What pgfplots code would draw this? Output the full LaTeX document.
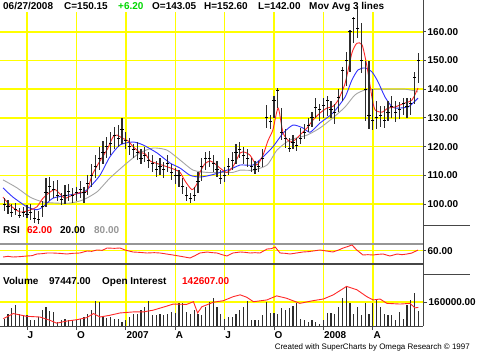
\documentclass[border=0pt]{standalone}
\usepackage{fontspec}
\setmainfont{Liberation Sans}
\usepackage{pgfplots}
\usepackage{pgfplotstable}
\pgfplotsset{compat=1.18}
\definecolor{gridyel}{RGB}{255,255,0}
\definecolor{mared}{RGB}{255,40,40}
\definecolor{mablue}{RGB}{50,50,255}
\definecolor{magray}{RGB}{165,165,165}
\definecolor{axgray}{RGB}{70,70,70}
\definecolor{barcol}{RGB}{45,45,45}
\definecolor{txtgreen}{RGB}{0,215,0}
\definecolor{rsigray}{RGB}{150,150,150}
\newcommand\lab{\fontsize{10}{12}\selectfont\bfseries}

\pgfplotstableread{
w c h l
-6 100 102 97.5
-5 99 101.5 96.5
-4 97 100 95.5
-3 98 100.5 96
-2 96 98.5 95
-1 97 99 95.5
0 96.5 99.5 95
1 97 100 94.5
2 95 98 93.5
3 94.5 97.5 93
4 99 101 95.5
5 104 109 99
6 106 109.5 101
7 105 108 102
8 103 108.5 101
9 101.5 104 99.5
10 103 106.5 100
11 104.5 107 101
12 103 105.5 100.5
13 104 106 101
14 105 108 102
15 104 106 100.5
16 107 110 103
17 110 114 106
18 113 117 109
19 116 120 112
20 118 122 114
21 120 123.5 116
22 121 125 117
23 124 127 119
24 123 127.5 120
25 126 130 121
26 122 125 119
27 120 123 117
28 119 121 116
29 118 121.5 115.5
30 116 119 114
31 117 120 114.5
32 115 118 112.5
33 114 117 111
34 112 115 109.5
35 113 116 110
36 112 114.5 109
37 114 117 111
38 111 114 108.5
39 110 112.5 107
40 110 112 106
41 106 109 103.5
42 103 106 101
43 102 104 100.5
44 103 106 101
45 108 111 104
46 113 116 108
47 116 118 112
48 116 118.5 113
49 114 117 111
50 112 115 109.5
51 109 112 107
52 110 113 107.5
53 113 116 110
54 115 118 112
55 118 121 114
56 119 121.5 116
57 117 120 114
58 116 119 113
59 113 116 111
60 112 115 110.5
61 113 115 111
62 116 119 113
63 130 134.5 126.5
64 128.6 131 126
65 136 137.5 130
66 139.7 140.4 133.4
67 125 133.4 122.3
68 123 126 119.5
69 119.5 123 118
70 121.3 124 119
71 120.5 123 118.5
72 123 126.5 121
73 125 128 122.5
74 127.5 130 125
75 130 132 127
76 133.8 137 130
77 132.8 135 129
78 134.5 137 130
79 136 137.5 130.5
80 133 136 130
81 132 135 128
82 137 140 132
83 146.7 147.7 136
84 150 153 141
85 160 160.6 146
86 164.8 165 156
87 161 168.6 158
88 150 163 145.6
89 140 150 129
90 131 150 126
91 129 140 125.8
92 130 136 126
93 131 134 127
94 129 134 126.5
95 132 136 129
96 134 137.5 130
97 132 136 128.5
98 133 135.5 129.5
99 135 137 131
100 134 137 130
101 135 137 131
102 144 146 135
103 150.15 152.6 142
}\price

\pgfplotstableread{
w v
-6 49000
-5 83000
-4 117000
-3 139600
-2 83000
-1 71500
0 71500
1 42200
2 42200
3 60000
4 110000
5 128000
6 100800
7 94000
8 25900
9 37400
10 49000
11 37400
12 42200
13 42200
14 49000
15 60000
16 78300
17 110000
18 169000
19 162000
20 60000
21 55800
22 60000
23 49000
24 49000
25 25900
26 37400
27 60000
28 83000
29 83000
30 105500
31 128000
32 169000
33 71500
34 71500
35 83000
36 71500
37 78300
38 94000
39 87000
40 155000
41 151000
42 94000
43 83000
44 110000
45 83000
46 76000
47 128000
48 162000
49 185000
50 124000
51 83000
52 49000
53 60000
54 60000
55 83000
56 105500
57 128000
58 169000
59 37400
60 37400
61 42200
62 71500
63 162000
64 87000
65 87000
66 83000
67 117000
68 105500
69 117000
70 132800
71 155000
72 49000
73 37400
74 25900
75 37400
76 25900
77 15000
78 42200
79 87000
80 87000
81 83000
82 124000
83 190000
84 262000
85 151000
86 83000
87 128000
88 71500
89 155000
90 83000
91 151000
92 178000
93 128000
94 83000
95 71500
96 71500
97 42200
98 94000
99 49000
100 139600
101 173600
102 223000
103 97447
}\vol

\pgfplotsset{
  panel/.style={
    scale only axis, width=423bp, xmin=-7.105, xmax=104.21, clip=false,
    axis x line*=bottom, axis y line*=right,
    xtick pos=bottom, ytick pos=right, yticklabel pos=right,
    x axis line style={draw=none},
    y axis line style={draw=axgray, line width=0.8bp},
    xtick={0,13,26,39,52,65,78,91}, xticklabels={},
    xmajorgrids, ymajorgrids,
    major grid style={gridyel, line width=1.4bp},
    major x tick style={draw=none},
    major y tick style={draw=axgray, line width=0.8bp},
    tick align=outside, major tick length=3bp,
    scaled y ticks=false,
    yticklabel style={font=\lab, anchor=west, inner sep=0pt, xshift=1.5bp},
    xticklabel style={font=\lab, anchor=north west, inner sep=0pt, xshift=0.5bp, yshift=-1bp},
    /pgf/number format/fixed, /pgf/number format/fixed zerofill,
    /pgf/number format/precision=2, /pgf/number format/1000 sep={},
    /pgf/number format/assume math mode=true,
  }
}

\begin{document}
\begin{tikzpicture}
\path[use as bounding box] (0bp,0bp) rectangle (480bp,-352bp);

% ---------------- price panel ----------------
\begin{axis}[panel, at={(0bp,-12bp)}, anchor=north west, height=213bp,
  ymin=92.68, ymax=166.90, ytick={100,110,120,130,140,150,160}]
\addplot[magray, line width=0.9bp, smooth, tension=0.4] coordinates {
(-6.3,108.4) (-2.6,105.6) (0.8,102.4) (4.2,100.7) (7.9,100.3) (11.3,100.3)
(14.7,101.4) (18.4,104.2) (21.8,109) (26.3,114.3) (29.7,117.8) (33.2,119.5)
(36.8,118.8) (40.3,115.3) (43.7,111.8) (47.4,111) (50.8,111) (54.2,111)
(56.1,111.8) (59.5,111.8) (63.2,113.6) (65.8,118.8) (69.2,122.3) (73.7,124)
(77.1,126.5) (80.5,130) (83.7,133.8) (86.3,138) (88.9,139.7) (92.4,140)
(96.1,140) (99.5,140) (102.1,139.4) (102.9,139)};
\addplot[mablue, line width=0.9bp, smooth, tension=0.4] coordinates {
(-6.3,105.6) (-3.7,102.4) (0,99) (2.6,98) (4.2,99) (6.8,102) (10.5,103)
(14.7,104) (16.6,106) (19.2,110) (21.8,116.4) (24.5,120.6) (27.9,121.6)
(30.5,120.6) (34.2,117.8) (37.6,114.3) (40.3,112.5) (42.9,110) (45.5,109.4)
(48.2,110) (50.8,111) (54.2,112.5) (56.1,113.6) (59.5,113.6) (62.1,116.4)
(64.7,119.9) (67.4,124.7) (70,127.5) (72.6,126.5) (74.5,125) (77.1,128.2)
(80.5,131.7) (83.7,137.3) (85.5,143.2) (87.1,146.7) (88.9,147.4) (90.8,146)
(92.4,142.5) (94.2,137.3) (96.1,133.8) (97.6,133.4) (100.3,133.8)
(101.6,135.2) (102.9,136.9)};
\addplot[mared, line width=0.9bp, smooth, tension=0.4] coordinates {
(-6.3,102.4) (-4.5,99.6) (-1.8,97.2) (0.8,97.9) (2.6,99) (4.2,102) (6.1,104.2)
(7.4,105) (8.7,103.5) (10,102) (11.8,103) (13.9,104) (15.8,104.5) (17.1,110)
(19.2,115) (21.1,119) (22.6,123.3) (23.7,124) (25,123) (26.6,122) (27.9,120)
(29.7,118) (31.1,117.5) (32.4,115) (34.5,114) (36.8,113) (38.9,112)
(40.3,111) (41.6,108) (43.4,105) (44.7,107) (45.5,111) (46.8,114) (48.2,115)
(49.5,114) (50.8,112.5) (52.6,111) (54.2,113) (56.1,117.8) (57.4,118)
(58.7,117) (60.5,113.6) (62.1,117) (63.4,122) (64.7,125.8) (66.1,133.4)
(67.4,124.7) (69.2,121.6) (70.5,122.3) (71.8,124) (73.7,126.5) (75.3,129.3)
(77.1,131.7) (78.9,133.4) (80.5,134) (81.8,136) (83.7,142) (85.5,152.6)
(86.8,156) (88.2,155.4) (89.5,147.7) (90.8,137) (91.6,132.8) (93.4,132)
(95,133.4) (96.8,133.8) (99.5,135.2) (101.3,136.2) (102.9,140.4)};
\addplot[only marks, mark=-, mark size=1.6bp, mark options={black, line width=0.9bp},
  error bars/.cd, y dir=both, y explicit, error mark=none,
  error bar style={barcol, line width=1.1bp}]
  table[x=w, y=c, y error plus expr=\thisrow{h}-\thisrow{c},
        y error minus expr=\thisrow{c}-\thisrow{l}] {\price};
\end{axis}

% ---------------- RSI panel ----------------
\begin{axis}[panel, at={(0bp,-225bp)}, anchor=north west, height=49bp,
  ymin=-10, ymax=137, ytick={60}]
\addplot[rsigray, line width=1.1bp] coordinates {(-7.105,80) (104.21,80)};
\addplot[axgray, line width=1.1bp] coordinates {(-7.105,20) (104.21,20)};
\addplot[mared, line width=0.9bp] coordinates {
(-6.3,41) (-5,43) (-3.7,41) (-2,42) (0,44) (1.3,45) (2.6,50) (4,51) (5.3,53)
(6.8,53) (8.5,52) (10.5,50) (12,52) (13.9,53) (15.8,59) (17,58) (18.4,62)
(19.8,61) (21.1,68) (23,67) (24.5,68) (25.8,62) (27.9,56) (29.5,55) (31.6,53)
(33.5,54) (35,53) (36.7,50) (38.4,47) (40.5,43) (42.9,38) (44.2,45) (45.5,53)
(47.4,56) (48.8,54) (50,53) (51.3,48) (52.6,44) (54.2,53) (56.1,56)
(57.4,55) (58.7,53) (60,54) (61.3,53) (63.2,65) (64.3,66) (65.3,71)
(66.6,53) (68,52) (69.2,50) (70.9,53) (72.6,56) (74,57) (75.3,59) (77.1,62)
(78.8,59) (80.5,56) (82,62) (83.2,68) (84.3,72) (85.5,77) (86.8,62)
(88.4,47) (89.7,48) (91.1,47) (92.4,49) (93.7,50) (95.5,44) (97.4,50)
(98.7,48) (100,50) (101.3,53) (102.9,62)};
\end{axis}

% ---------------- volume panel ----------------
\begin{axis}[panel, at={(0bp,-274bp)}, anchor=north west, height=52bp,
  ymin=0, ymax=346667, ytick={160000},
  xticklabels={J,O,2007,A,J,O,2008,A},
  x axis line style={draw=axgray, line width=0.8bp},
  major x tick style={draw=axgray, line width=0.8bp}, major tick length=4bp]
\addplot[ycomb, barcol, line width=1.1bp, no marks] table[x=w, y=v] {\vol};
\addplot[mared, line width=0.9bp] coordinates {
(-6.2,49000) (-3.6,83000) (-0.1,64700) (3.4,60000) (6.1,37400) (7.8,19000)
(10.4,32700) (13.1,42000) (15.7,55800) (17.5,83000) (19.2,60000) (21.8,71500)
(24.5,87000) (28,94000) (30.6,94000) (33.2,105500) (36.8,132800) (38.5,146400)
(42,144000) (43.8,162000) (44.9,87000) (46,128000) (49,158000) (51.7,169000)
(54.3,196000) (56.1,207700) (57.8,192000) (59.6,162000) (63.1,173600)
(65.7,200900) (68.3,185000) (71.8,151000) (75.3,169000) (78,180000)
(80.6,207700) (84.1,264000) (86.8,241700) (89.4,196000) (91.1,173600)
(92.9,180000) (94.7,151000) (98.2,146400) (100.8,151000) (102.1,121000)
(103,124000)};
\end{axis}

% ---------------- frame pieces ----------------
\draw[axgray, line width=0.8bp] (423bp,0bp) -- (423bp,-12bp);
\draw[axgray, line width=0.8bp] (423bp,-225bp) -- (470bp,-225bp);
\draw[axgray, line width=0.8bp] (423bp,-274bp) -- (470bp,-274bp);

% ---------------- texts ----------------
\begin{scope}[every node/.style={anchor=base west, inner sep=0pt, font=\lab}]
\node at (3bp,-9.5bp) {06/27/2008};
\node at (64bp,-9.5bp) {C=150.15};
\node[text=txtgreen] at (118bp,-9.5bp) {+6.20};
\node at (152bp,-9.5bp) {O=143.05};
\node at (204bp,-9.5bp) {H=152.60};
\node at (258bp,-9.5bp) {L=142.00};
\node at (309bp,-9.5bp) {Mov Avg 3 lines};
\node at (3bp,-233.5bp) {RSI};
\node[text=red] at (27bp,-233.5bp) {62.00};
\node at (60bp,-233.5bp) {20.00};
\node[text=rsigray] at (94bp,-233.5bp) {80.00};
\node at (3bp,-284bp) {Volume};
\node at (49bp,-284bp) {97447.00};
\node at (102bp,-284bp) {Open Interest};
\node[text=red] at (182bp,-284bp) {142607.00};
\end{scope}
\node[anchor=base east, inner sep=0pt, font=\fontsize{8}{9}\selectfont] at (470bp,-349.5bp)
  {Created with SuperCharts by Omega Research \textcopyright\ 1997};
\end{tikzpicture}
\end{document}
